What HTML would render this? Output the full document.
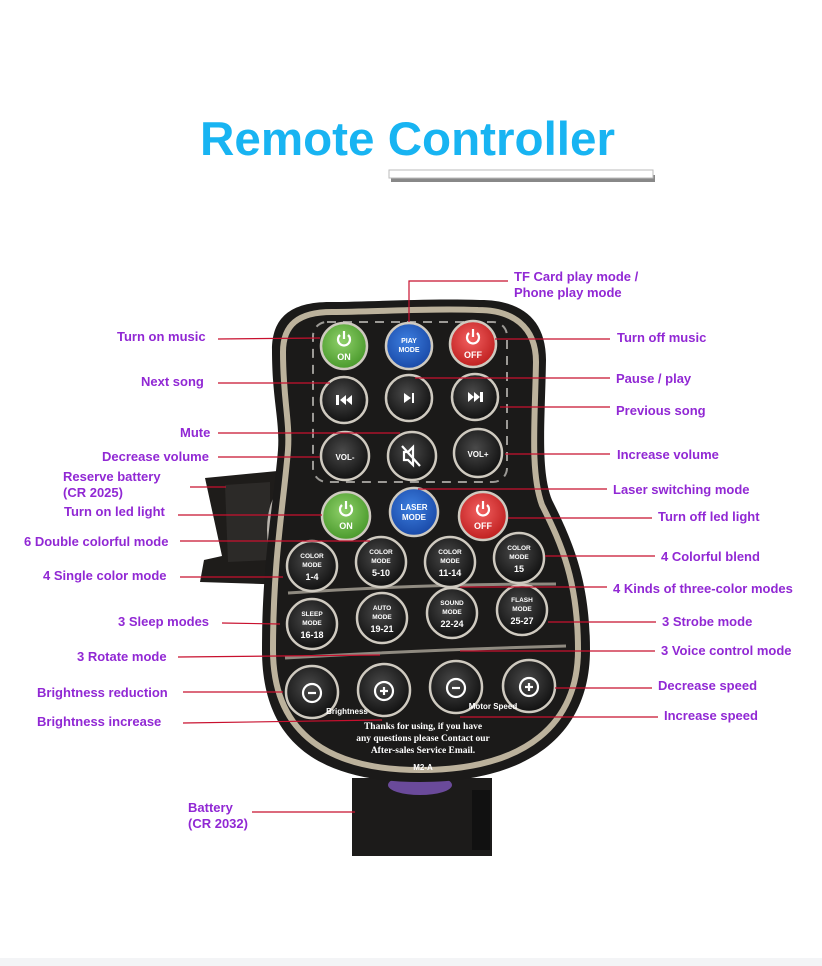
<!DOCTYPE html>
<html><head><meta charset="utf-8"><style>
html,body{margin:0;padding:0;background:#fff;}
svg{display:block;}
.l{font-family:"Liberation Sans",sans-serif;font-weight:bold;font-size:13px;fill:#9128d4;}
.b{font-family:"Liberation Sans",sans-serif;font-weight:bold;fill:#fff;text-anchor:middle;}
.r{stroke:#c8102e;stroke-width:1.2;fill:none;}
</style></head><body>
<svg width="822" height="966" viewBox="0 0 822 966" xmlns="http://www.w3.org/2000/svg">
<defs>
<radialGradient id="dk" cx="45%" cy="40%" r="60%"><stop offset="0" stop-color="#4a4a4a"/><stop offset="1" stop-color="#111"/></radialGradient>
<radialGradient id="gr" cx="45%" cy="40%" r="60%"><stop offset="0" stop-color="#8fd06a"/><stop offset="1" stop-color="#4a9a2c"/></radialGradient>
<radialGradient id="bl" cx="45%" cy="40%" r="60%"><stop offset="0" stop-color="#3d7fe0"/><stop offset="1" stop-color="#1a4aa8"/></radialGradient>
<radialGradient id="rd" cx="45%" cy="40%" r="60%"><stop offset="0" stop-color="#f26060"/><stop offset="1" stop-color="#c02020"/></radialGradient>
</defs>
<rect width="822" height="966" fill="#fff"/>
<rect x="0" y="958" width="822" height="8" fill="#f3f4f6"/>
<!-- title -->
<text x="200" y="155" textLength="415" lengthAdjust="spacingAndGlyphs" font-family="Liberation Sans, sans-serif" font-weight="bold" font-size="47" fill="#18b4f2">Remote Controller</text>
<rect x="391" y="175" width="264" height="7" fill="#555" opacity="0.7"/>
<rect x="389" y="170" width="264" height="8" fill="#fff" stroke="#bbb" stroke-width="1"/>

<!-- left battery holder -->
<path d="M205 478 L288 470 L292 585 L200 582 L204 560 L222 556 Z" fill="#1e1c1a"/>
<path d="M225 485 L270 482 L270 560 L228 562 Z" fill="#2c2a28"/>
<ellipse cx="285" cy="530" rx="18" ry="42" fill="#b9b4ad"/>
<!-- bottom battery -->
<rect x="352" y="778" width="140" height="78" fill="#1c1b1a"/>
<ellipse cx="420" cy="785" rx="32" ry="10" fill="#6a4a9a"/>
<rect x="472" y="790" width="18" height="60" fill="#111"/>

<!-- body -->
<path d="M330 302 C290 302 272 318 272 350 C272 400 280 420 278 450 C274 500 262 560 262 650 C262 735 310 782 420 782 C535 782 590 730 590 650 C590 580 572 540 552 500 C540 470 545 420 546 360 C546 318 520 300 480 300 C430 298 370 302 330 302 Z" fill="#1b1a19"/>
<path d="M332 312 C298 312 283 325 283 352 C283 400 290 420 288 450 C284 500 273 560 273 650 C273 725 318 770 420 770 C528 770 578 722 578 650 C578 582 562 545 542 505 C530 472 535 420 536 362 C536 326 512 310 478 310 C430 308 372 312 332 312 Z" fill="none" stroke="#bcb29c" stroke-width="6"/>
<rect x="313" y="322" width="194" height="160" rx="14" fill="none" stroke="#9c9a96" stroke-width="2" stroke-dasharray="9 7"/>
<path d="M288 593 Q420 584 556 584" stroke="#8f8a80" stroke-width="3" fill="none"/>
<path d="M285 658 Q420 650 566 646" stroke="#8f8a80" stroke-width="3" fill="none"/>

<!-- buttons -->
<g stroke="#cfcac0" stroke-width="2.5">
<circle cx="344" cy="346" r="23" fill="url(#gr)"/>
<circle cx="409" cy="346" r="23" fill="url(#bl)"/>
<circle cx="473" cy="344" r="23" fill="url(#rd)"/>
<circle cx="344" cy="400" r="23" fill="url(#dk)"/>
<circle cx="409" cy="398" r="23" fill="url(#dk)"/>
<circle cx="475" cy="397" r="23" fill="url(#dk)"/>
<circle cx="345" cy="456" r="24" fill="url(#dk)"/>
<circle cx="412" cy="456" r="24" fill="url(#dk)"/>
<circle cx="478" cy="453" r="24" fill="url(#dk)"/>
<circle cx="346" cy="516" r="24" fill="url(#gr)"/>
<circle cx="414" cy="512" r="24" fill="url(#bl)"/>
<circle cx="483" cy="516" r="24" fill="url(#rd)"/>
<circle cx="312" cy="566" r="25" fill="url(#dk)"/>
<circle cx="381" cy="562" r="25" fill="url(#dk)"/>
<circle cx="450" cy="562" r="25" fill="url(#dk)"/>
<circle cx="519" cy="558" r="25" fill="url(#dk)"/>
<circle cx="312" cy="624" r="25" fill="url(#dk)"/>
<circle cx="382" cy="618" r="25" fill="url(#dk)"/>
<circle cx="452" cy="613" r="25" fill="url(#dk)"/>
<circle cx="522" cy="610" r="25" fill="url(#dk)"/>
<circle cx="312" cy="692" r="26" fill="url(#dk)"/>
<circle cx="384" cy="690" r="26" fill="url(#dk)"/>
<circle cx="456" cy="687" r="26" fill="url(#dk)"/>
<circle cx="529" cy="686" r="26" fill="url(#dk)"/>
</g>
<!-- power icons -->
<g stroke="#fff" stroke-width="2.2" fill="none">
<path d="M340 335 a6 6 0 1 0 8 0"/><line x1="344" y1="331" x2="344" y2="339"/>
<path d="M469 333 a6 6 0 1 0 8 0"/><line x1="473" y1="329" x2="473" y2="337"/>
<path d="M342 505 a6 6 0 1 0 8 0"/><line x1="346" y1="501" x2="346" y2="509"/>
<path d="M479 505 a6 6 0 1 0 8 0"/><line x1="483" y1="501" x2="483" y2="509"/>
<circle cx="312" cy="693" r="9"/><line x1="308" y1="693" x2="316" y2="693"/>
<circle cx="384" cy="691" r="9"/><line x1="380" y1="691" x2="388" y2="691"/><line x1="384" y1="687" x2="384" y2="695"/>
<circle cx="456" cy="688" r="9"/><line x1="452" y1="688" x2="460" y2="688"/>
<circle cx="529" cy="687" r="9"/><line x1="525" y1="687" x2="533" y2="687"/><line x1="529" y1="683" x2="529" y2="691"/>
<path d="M404 452 h4 l5 -5 v18 l-5 -5 h-4 z M402 446 L420 466"/>
</g>
<g fill="#fff">
<path d="M336 395 h3 v10 h-3 z M340 400 l6 -5 v10 z M346 400 l6 -5 v10 z"/>
<path d="M404 393 l7 5 l-7 5 z M412 393 h2 v10 h-2 z"/>
<path d="M468 392 l6 5 l-6 5 z M474 392 l6 5 l-6 5 z M480 392 h3 v10 h-3 z"/>
</g>
<text class="b" x="344" y="360" font-size="9">ON</text>
<text class="b" x="409" y="343" font-size="7">PIAY</text>
<text class="b" x="409" y="352" font-size="7">MODE</text>
<text class="b" x="473" y="358" font-size="9">OFF</text>
<text class="b" x="345" y="460" font-size="8">VOL-</text>
<text class="b" x="478" y="457" font-size="8">VOL+</text>
<text class="b" x="346" y="529" font-size="9">ON</text>
<text class="b" x="414" y="510" font-size="8">LASER</text>
<text class="b" x="414" y="520" font-size="8">MODE</text>
<text class="b" x="483" y="529" font-size="9">OFF</text>
<g class="b" font-size="6.5">
<text x="312" y="558">COLOR</text><text x="312" y="567">MODE</text>
<text x="381" y="554">COLOR</text><text x="381" y="563">MODE</text>
<text x="450" y="554">COLOR</text><text x="450" y="563">MODE</text>
<text x="519" y="550">COLOR</text><text x="519" y="559">MODE</text>
<text x="312" y="616">SLEEP</text><text x="312" y="625">MODE</text>
<text x="382" y="610">AUTO</text><text x="382" y="619">MODE</text>
<text x="452" y="605">SOUND</text><text x="452" y="614">MODE</text>
<text x="522" y="602">FLASH</text><text x="522" y="611">MODE</text>
</g>
<g class="b" font-size="9">
<text x="312" y="580">1-4</text><text x="381" y="576">5-10</text><text x="450" y="576">11-14</text><text x="519" y="572">15</text>
<text x="312" y="638">16-18</text><text x="382" y="632">19-21</text><text x="452" y="627">22-24</text><text x="522" y="624">25-27</text>
</g>
<text class="b" x="347" y="714" font-size="8">Brightness</text>
<text class="b" x="493" y="709" font-size="8">Motor Speed</text>
<g font-family="Liberation Serif, serif" font-weight="bold" font-size="9.5" fill="#fff" text-anchor="middle">
<text x="423" y="729">Thanks for using, if you have</text>
<text x="423" y="741">any questions please Contact our</text>
<text x="423" y="753">After-sales Service Email.</text>
</g>
<text class="b" x="423" y="770" font-size="8">M2-A</text>

<!-- connector lines -->
<g class="r">
<polyline points="409,322 409,281 508,281"/>
<line x1="218" y1="339" x2="320" y2="338"/>
<line x1="495" y1="339" x2="610" y2="339"/>
<line x1="218" y1="383" x2="330" y2="383"/>
<line x1="415" y1="378" x2="610" y2="378"/>
<line x1="500" y1="407" x2="610" y2="407"/>
<line x1="218" y1="433" x2="400" y2="433"/>
<line x1="218" y1="457" x2="320" y2="457"/>
<line x1="505" y1="454" x2="610" y2="454"/>
<line x1="190" y1="487" x2="226" y2="487"/>
<line x1="418" y1="489" x2="607" y2="489"/>
<line x1="178" y1="515" x2="322" y2="515"/>
<line x1="508" y1="518" x2="652" y2="518"/>
<line x1="180" y1="541" x2="370" y2="541"/>
<line x1="545" y1="556" x2="655" y2="556"/>
<line x1="180" y1="577" x2="283" y2="577"/>
<line x1="460" y1="587" x2="607" y2="587"/>
<line x1="222" y1="623" x2="280" y2="624"/>
<line x1="548" y1="622" x2="656" y2="622"/>
<line x1="178" y1="657" x2="380" y2="655"/>
<line x1="460" y1="651" x2="655" y2="651"/>
<line x1="183" y1="692" x2="283" y2="692"/>
<line x1="555" y1="688" x2="652" y2="688"/>
<line x1="183" y1="723" x2="382" y2="720"/>
<line x1="460" y1="717" x2="658" y2="717"/>
<line x1="252" y1="812" x2="355" y2="812"/>
</g>

<!-- labels -->
<text class="l" x="514" y="281">TF Card play mode /</text>
<text class="l" x="514" y="297">Phone play mode</text>
<text class="l" x="117" y="341">Turn on music</text>
<text class="l" x="617" y="342">Turn off music</text>
<text class="l" x="141" y="386">Next song</text>
<text class="l" x="616" y="383">Pause / play</text>
<text class="l" x="616" y="415">Previous song</text>
<text class="l" x="180" y="437">Mute</text>
<text class="l" x="102" y="461">Decrease volume</text>
<text class="l" x="617" y="459">Increase volume</text>
<text class="l" x="63" y="481">Reserve battery</text>
<text class="l" x="63" y="497">(CR 2025)</text>
<text class="l" x="613" y="494">Laser switching mode</text>
<text class="l" x="64" y="516">Turn on led light</text>
<text class="l" x="658" y="521">Turn off led light</text>
<text class="l" x="24" y="546">6 Double colorful mode</text>
<text class="l" x="661" y="561">4 Colorful blend</text>
<text class="l" x="43" y="580">4 Single color mode</text>
<text class="l" x="613" y="593">4 Kinds of three-color modes</text>
<text class="l" x="118" y="626">3 Sleep modes</text>
<text class="l" x="662" y="626">3 Strobe mode</text>
<text class="l" x="77" y="661">3 Rotate mode</text>
<text class="l" x="661" y="655">3 Voice control mode</text>
<text class="l" x="37" y="697">Brightness reduction</text>
<text class="l" x="658" y="690">Decrease speed</text>
<text class="l" x="37" y="726">Brightness increase</text>
<text class="l" x="664" y="720">Increase speed</text>
<text class="l" x="188" y="812">Battery</text>
<text class="l" x="188" y="828">(CR 2032)</text>
</svg>
</body></html>
